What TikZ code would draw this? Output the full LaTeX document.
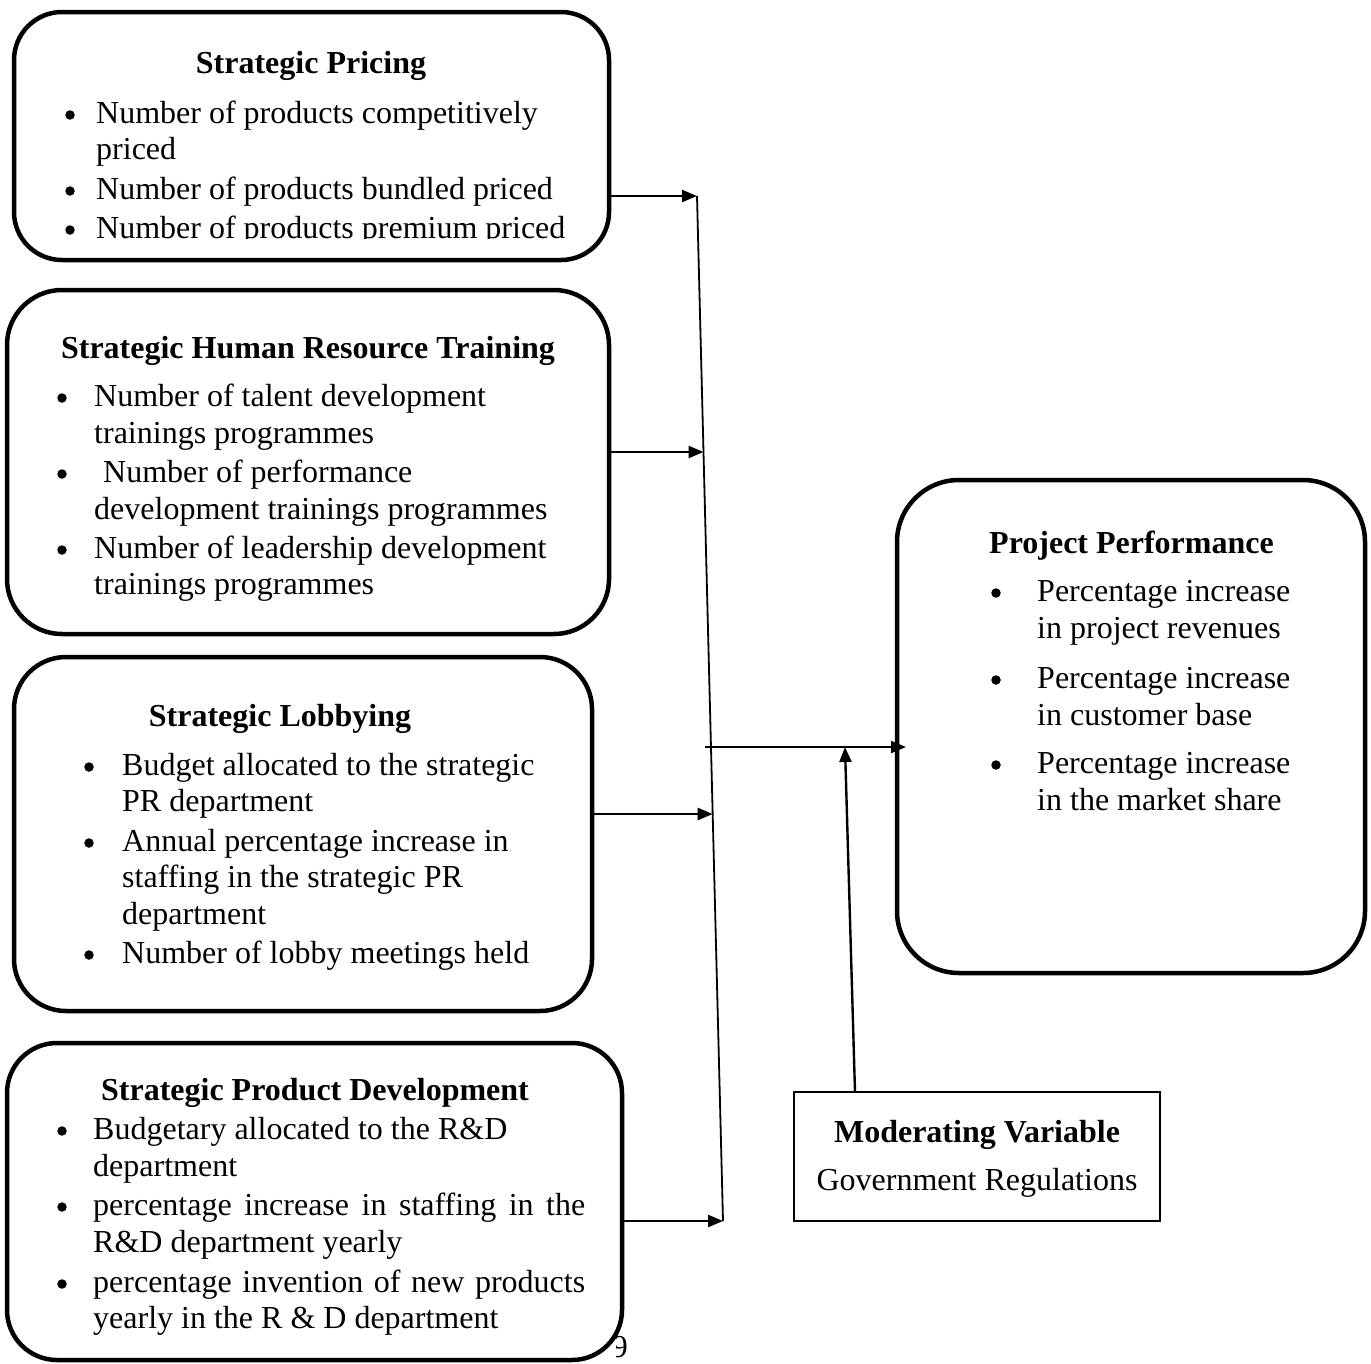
\documentclass[tikz,border=0pt]{standalone}
\usepackage{fontspec}
\setmainfont{Liberation Serif}
\usetikzlibrary{arrows.meta}
\newcommand\bodyfont{\fontsize{32}{37}\selectfont}
\tikzset{
 rbox/.style={draw, line width=4.5pt, rounded corners=48pt, fill=white, inner sep=0pt, outer sep=0pt, anchor=north west},
 mbox/.style={draw, line width=2pt, fill=white, inner sep=0pt, outer sep=0pt, anchor=north west},
 ttl/.style={font=\bodyfont\bfseries, inner sep=0pt, anchor=base, yshift=-10pt},
 ttlw/.style={font=\bodyfont\bfseries, inner sep=0pt, anchor=base west, yshift=-10pt},
 txt/.style={font=\bodyfont, inner sep=0pt, anchor=base west, yshift=-10pt},
 ctxt/.style={font=\bodyfont, inner sep=0pt, anchor=base, yshift=-10pt},
 bul/.style={circle, fill=black, inner sep=0pt, minimum size=9.5pt, yshift=-2pt},
 arr/.style={line width=2.4pt, -{Triangle[length=15pt,width=12pt]}},
 slim/.style={line width=1.8pt}
}
\begin{document}
\begin{tikzpicture}[x=1pt,y=-1pt]
\useasboundingbox (0,0) rectangle (1371,1363);
% page number, mostly hidden by the box
\begin{scope}
\clip (616,1320) rectangle (660,1363);
\node[font=\bodyfont, inner sep=0pt, anchor=base east] (pnum) at (628,1357) {49};
\end{scope}
% boxes
\node[rbox, minimum width=595pt, minimum height=248pt] (pricing) at (14,12) {};
\node[rbox, minimum width=602pt, minimum height=344pt, rounded corners=55pt] (hr) at (7,290) {};
\node[rbox, minimum width=578pt, minimum height=354pt, rounded corners=52pt] (lobby) at (14,657) {};
\node[rbox, minimum width=615pt, minimum height=317pt, rounded corners=50pt, fill=none] (prod) at (7,1043) {};
\node[rbox, minimum width=468pt, minimum height=493pt, rounded corners=62pt] (pp) at (897,480) {};
\node[mbox, minimum width=366pt, minimum height=129pt] (mod) at (794,1092) {};
% Strategic Pricing
\node[ttl] (t1) at (311,63) {Strategic Pricing};
\node[bul] (b11) at (70,113) {};
\node[txt] (l11) at (96,113) {Number of products competitively};
\node[txt] (l12) at (96,149) {priced};
\node[bul] (b12) at (70,189) {};
\node[txt] (l13) at (96,189) {Number of products bundled priced};
\begin{scope}
\clip (0,0) rectangle (1371,238);
\node[bul] (b13) at (70,228) {};
\node[txt] (l14) at (96,228) {Number of products premium priced};
\end{scope}
% Strategic HR Training
\node[ttl] (t2) at (308,348) {Strategic Human Resource Training};
\node[bul] (b21) at (62,396) {};
\node[txt] (l21) at (94,396) {Number of talent development};
\node[txt] (l22) at (94,433) {trainings programmes};
\node[bul] (b22) at (62,472) {};
\node[txt] (l23) at (103,472) {Number of performance};
\node[txt] (l24) at (94,509) {development trainings programmes};
\node[bul] (b23) at (62,548) {};
\node[txt] (l25) at (94,548) {Number of leadership development};
\node[txt] (l26) at (94,584) {trainings programmes};
% Strategic Lobbying
\node[ttl] (t3) at (280,716) {Strategic Lobbying};
\node[bul] (b31) at (89,765) {};
\node[txt] (l31) at (122,765) {Budget allocated to the strategic};
\node[txt] (l32) at (122,801) {PR department};
\node[bul] (b32) at (89,841) {};
\node[txt] (l33) at (122,841) {Annual percentage increase in};
\node[txt] (l34) at (122,877) {staffing in the strategic PR};
\node[txt] (l35) at (122,914) {department};
\node[bul] (b33) at (89,953) {};
\node[txt] (l36) at (122,953) {Number of lobby meetings held};
% Strategic Product Development
\node[ttl] (t4) at (315,1090) {Strategic Product Development};
\node[bul] (b41) at (62,1129) {};
\node[txt] (l41) at (93,1129) {Budgetary allocated to the R\&D};
\node[txt] (l42) at (93,1166) {department};
\node[bul] (b42) at (62,1205) {};
\node[txt] (l43) at (93,1205) {\makebox[492pt][s]{percentage increase in staffing in the}};
\node[txt] (l44) at (93,1242) {R\&D department yearly};
\node[bul] (b43) at (62,1282) {};
\node[txt] (l45) at (93,1282) {\makebox[492pt][s]{percentage invention of new products}};
\node[txt] (l46) at (93,1318) {yearly in the R \& D department};
% Project Performance
\node[ttlw] (t5) at (989,543) {Project Performance};
\node[bul] (b51) at (996,591) {};
\node[txt] (l51) at (1037,591) {Percentage increase};
\node[txt] (l52) at (1037,628) {in project revenues};
\node[bul] (b52) at (996,678) {};
\node[txt] (l53) at (1037,678) {Percentage increase};
\node[txt] (l54) at (1037,715) {in customer base};
\node[bul] (b53) at (996,763) {};
\node[txt] (l55) at (1037,763) {Percentage increase};
\node[txt] (l56) at (1037,800) {in the market share};
% Moderating variable
\node[ttl] (t6) at (977,1132) {Moderating Variable};
\node[ctxt] (l61) at (977,1180) {Government Regulations};
% connectors
\coordinate (vt) at (697,196);
\coordinate (vb) at (723,1221);
\coordinate (a2) at (703.5,452);
\coordinate (a3) at (712.7,814);
\coordinate (ms) at (705,747);
\coordinate (me) at (906,747);
\coordinate (mt) at (845,747);
\coordinate (mb) at (855,1092);
\draw[slim] (vt) -- (vb);
\draw[arr] (pricing.east |- vt) -- (vt);
\draw[arr] (hr.east |- a2) -- (a2);
\draw[arr] (lobby.east |- a3) -- (a3);
\draw[arr] (prod.east |- vb) -- (vb);
\draw[arr] (ms) -- (me);
\draw[arr] (mb) -- (mt);
\end{tikzpicture}
\end{document}
